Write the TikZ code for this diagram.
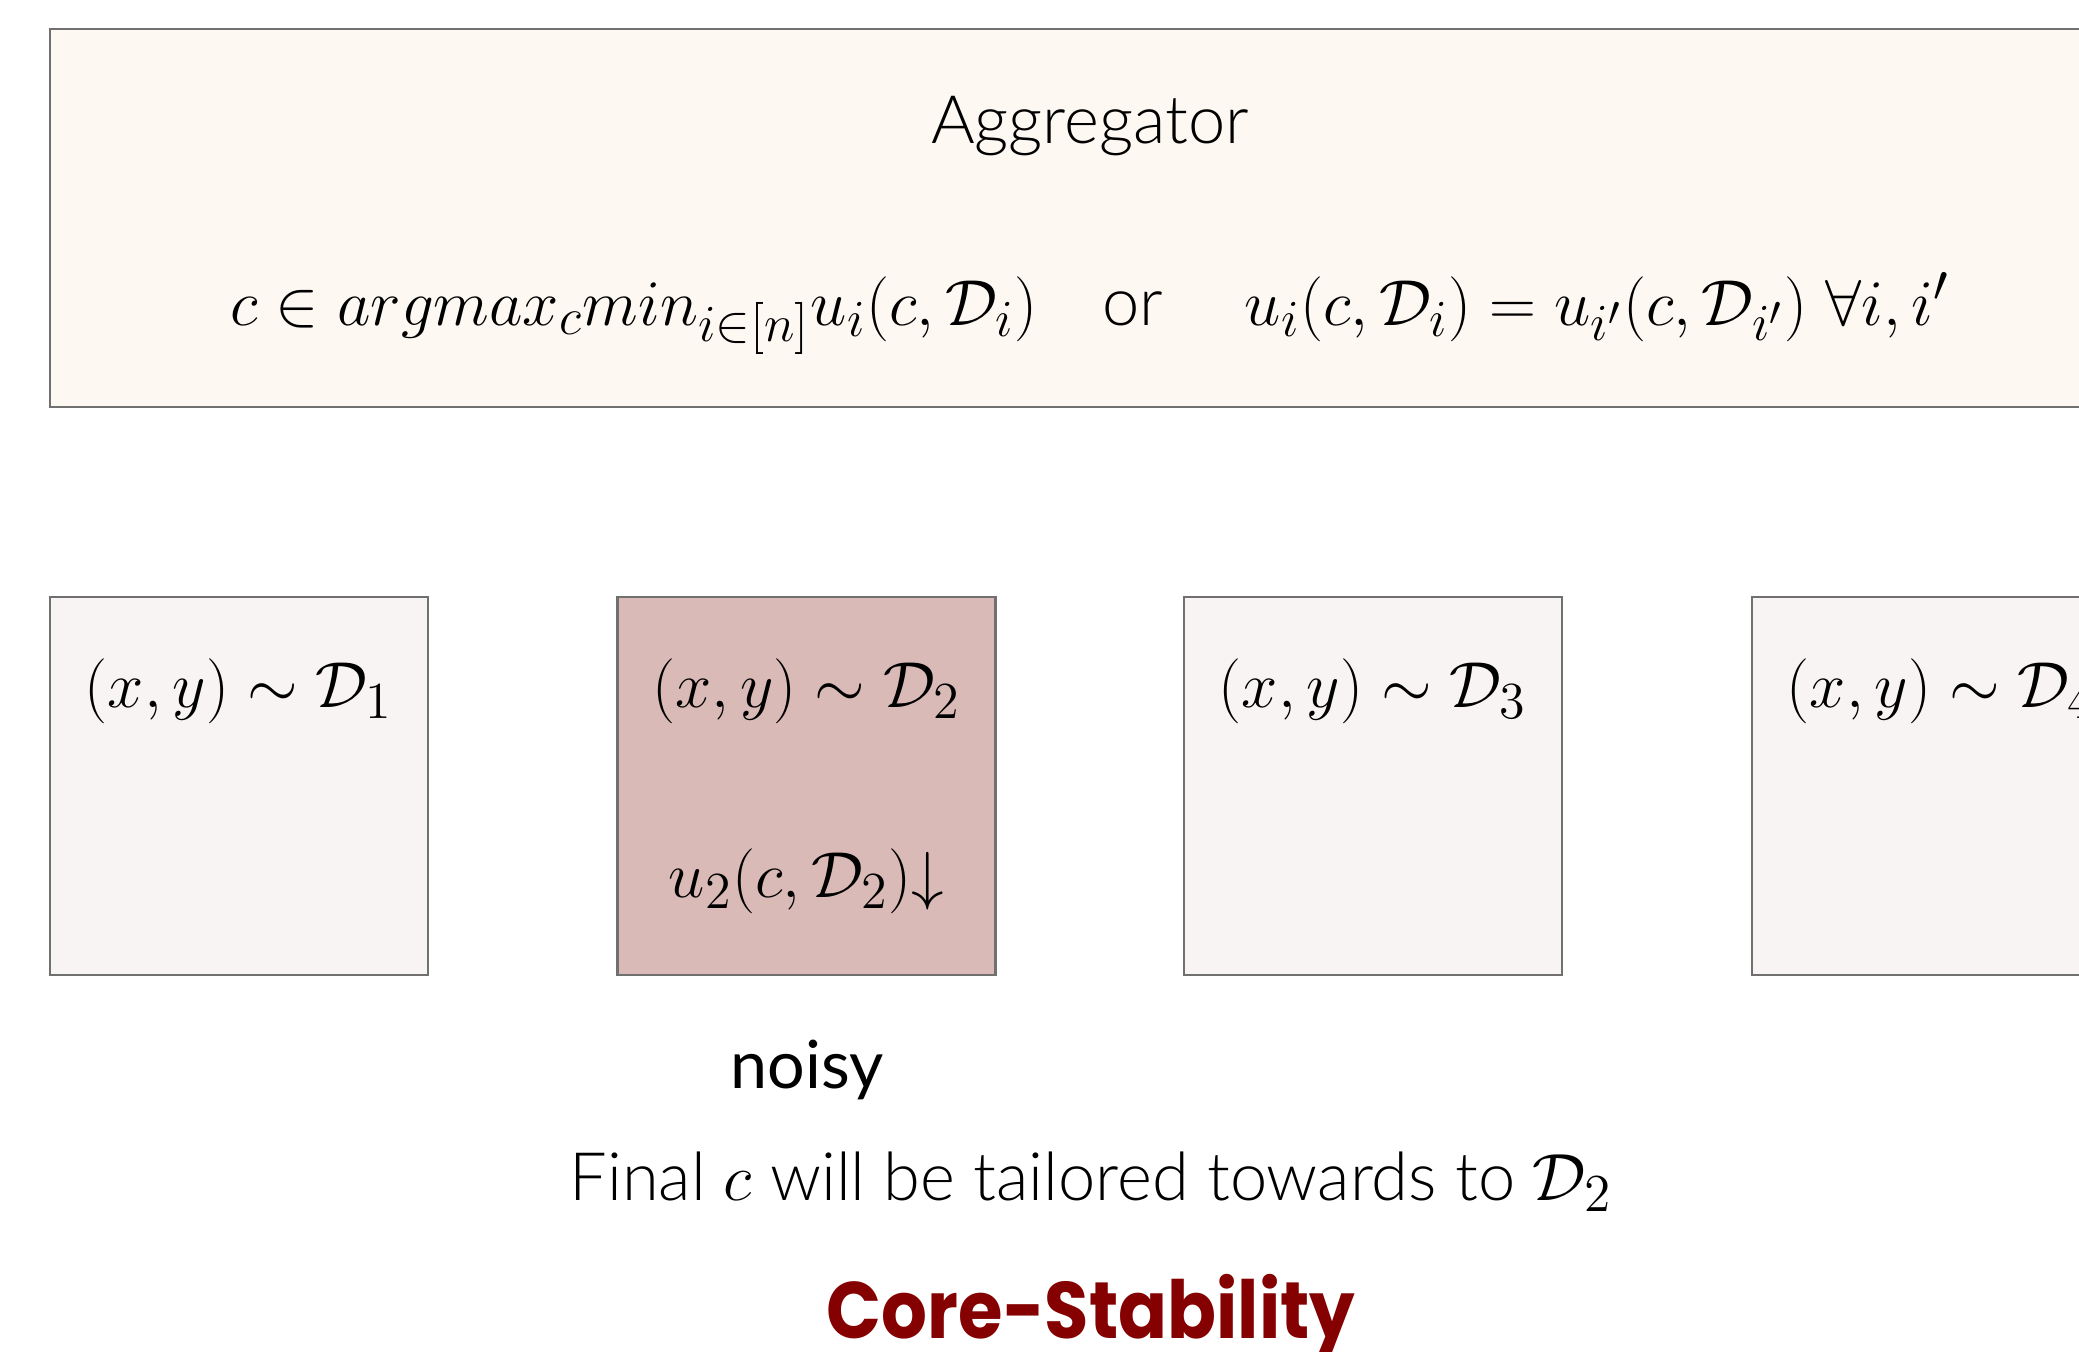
\RequirePackage{fix-cm}
\documentclass[tikz,border=0pt]{standalone}
\usepackage{amsmath,amssymb}
\usepackage{graphicx}
\usepackage{fontspec}
\setmainfont{Lato}
\newfontfamily\lightfont{Lato Light}
\newfontfamily\titlefont{Poppins}
\usepackage{xcolor}
\usetikzlibrary{positioning,calc}
\definecolor{aggfill}{HTML}{FDF8F2}
\definecolor{boxfill}{HTML}{F7F4F3}
\definecolor{noisyfill}{HTML}{D9BAB7}
\definecolor{edge}{HTML}{707070}
\definecolor{maroon}{HTML}{850000}
\DeclareMathSizes{18.5}{18.5}{14.8}{11.8}
\DeclareMathSizes{19}{19}{15.2}{12.2}

\begin{document}
\begin{tikzpicture}[
          every node/.style={inner sep=0pt},
          aggbox/.style={draw=edge, line width=0.6pt, fill=aggfill,
                         minimum width=20.8cm, minimum height=3.78cm},
          clientbox/.style={draw=edge, line width=0.6pt, fill=boxfill,
                            minimum size=3.78cm},
          maths/.style={font=\fontsize{18.5}{22.5}\selectfont, anchor=base},
          caption/.style={font=\fontsize{19}{23}\selectfont\lightfont, anchor=base}
      ]
        \clip (0,0) rectangle (20.79,-13.51);

        % aggregator on top
        \node[aggbox] (agg) at (10.90,-2.18) {};
        \node[caption] (aggname) at (10.90,-1.43) {Aggregator};
        \node[maths] (rule) at (10.90,-3.25)
              {$c \in argmax_c min_{i\in[n]} u_i(c,\mathcal{D}_i)$\quad{\lightfont\fontsize{19}{23}\selectfont or}\quad\
               $u_i(c,\mathcal{D}_i) = u_{i'}(c,\mathcal{D}_{i'})\;\forall i,i'$};

        % the four clients
        \node[clientbox] (d1) at (2.39,-7.86) {};
        \node[clientbox, fill=noisyfill] (d2) at (8.065,-7.86) {};
        \node[clientbox] (d3) at (13.73,-7.86) {};
        \node[clientbox] (d4) at (19.41,-7.86) {};

        \node[maths] (s1) at (2.39,-7.07) {$(x,y)\sim\mathcal{D}_1$};
        \node[maths] (s2) at (8.065,-7.07) {$(x,y)\sim\mathcal{D}_2$};
        \node[maths] (s3) at (13.73,-7.07) {$(x,y)\sim\mathcal{D}_3$};
        \node[maths] (s4) at (19.41,-7.07) {$(x,y)\sim\mathcal{D}_4$};
        \node[maths] (drop) at (8.065,-8.97) {$u_2(c,\mathcal{D}_2){\downarrow}$};

        \node[font=\fontsize{18.9}{23}\selectfont, anchor=base] (noisy) at (8.07,-10.88) {noisy};
        \node[caption] (final) at (10.91,-12.00)
              {Final $c$ will be tailored towards to $\mathcal{D}_2$};
        \node[font=\fontsize{22.8}{27}\selectfont\titlefont\bfseries, text=maroon, anchor=base]
              (core) at (10.91,-13.38) {\scalebox{0.9}[1]{Core-Stability}};
      \end{tikzpicture}
\end{document}
